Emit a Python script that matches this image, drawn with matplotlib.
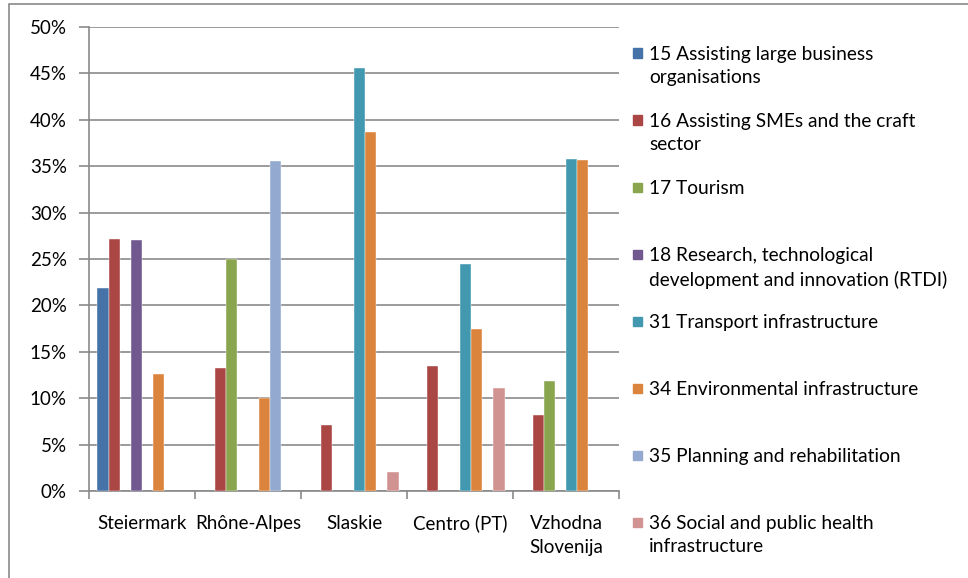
import matplotlib
matplotlib.use("Agg")
import matplotlib.pyplot as plt
import numpy as np
from matplotlib.patches import Rectangle

categories = ["Steiermark", "Rhône-Alpes", "Slaskie", "Centro (PT)", "Vzhodna\nSlovenija"]
series_labels = [
    "15 Assisting large business\norganisations",
    "16 Assisting SMEs and the craft\nsector",
    "17 Tourism",
    "18 Research, technological\ndevelopment and innovation (RTDI)",
    "31 Transport infrastructure",
    "34 Environmental infrastructure",
    "35 Planning and rehabilitation",
    "36 Social and public health\ninfrastructure",
]
s15 = [21.9, 0, 0, 0, 0]
s16 = [27.2, 13.3, 7.1, 13.5, 8.2]
s17 = [0, 25.0, 0, 0, 11.8]
s18 = [27.1, 0, 0, 0, 0]
s31 = [0, 0, 45.6, 24.5, 35.8]
s34 = [12.6, 10.0, 38.7, 17.5, 35.7]
s35 = [0, 35.6, 0, 0, 0]
s36 = [0, 0, 2.1, 11.1, 0]
series = [s15, s16, s17, s18, s31, s34, s35, s36]
colors = ["#4572A7", "#AA4643", "#89A54E", "#71588F", "#4198AF", "#DB843D", "#93A9CF", "#D19392"]

plt.rcParams['font.family'] = ['Lato', 'DejaVu Sans']
W, H = 968, 578
fig = plt.figure(figsize=(W/100, H/100), dpi=100)
ax = fig.add_axes([89/W, (H-491)/H, 530/W, 464/H])

bw = 1/9.5
x = np.arange(len(categories))
for i, (vals, c) in enumerate(zip(series, colors)):
    offs = x - 0.5 + 0.75*bw + (i + 0.5)*bw
    for xo, v in zip(offs, vals):
        if v > 0:
            ax.bar(xo, v, width=bw, color=c, edgecolor='white', linewidth=0.3, zorder=3)

ax.set_xlim(-0.5, len(categories) - 0.5)
ax.set_ylim(0, 50)
ax.set_yticks(np.arange(0, 51, 5))
ax.set_yticklabels([f"{v}%" for v in range(0, 51, 5)], fontsize=13.5)
ax.yaxis.grid(True, color='#8a8a8a', linewidth=1.2, zorder=0)
ax.set_axisbelow(True)
ax.set_xticks(x)
ax.set_xticklabels(categories, fontsize=13.5, linespacing=1.5)
ax.set_xticks(np.arange(-0.5, len(categories)), minor=True)
ax.tick_params(axis='x', which='major', length=0, pad=17)
ax.tick_params(axis='x', which='minor', length=6, color='#8a8a8a', width=1.2)
ax.tick_params(axis='y', length=7, color='#8a8a8a', width=1.2, pad=9)
for side in ['top', 'right']:
    ax.spines[side].set_visible(False)
for side in ['left', 'bottom']:
    ax.spines[side].set_color('#8a8a8a')
    ax.spines[side].set_linewidth(1.2)

# legend (manual, Excel style)
for i, (lab, c) in enumerate(zip(series_labels, colors)):
    y = 53 + 67*i
    fig.patches.append(Rectangle((633/W, (H - y - 4.5)/H), 9/W, 9/H,
                                 transform=fig.transFigure, color=c))
    fig.text(649/W, (H - y + 7)/H, lab, fontsize=13.8, va='top', ha='left',
             linespacing=1.45)

# chart border
fig.patches.append(Rectangle((9/W, -0.1), 1.2, (H - 4)/H + 0.1, transform=fig.transFigure,
                             fill=False, edgecolor='#8a8a8a', linewidth=1.2))

fig.savefig("out.png", dpi=100)
